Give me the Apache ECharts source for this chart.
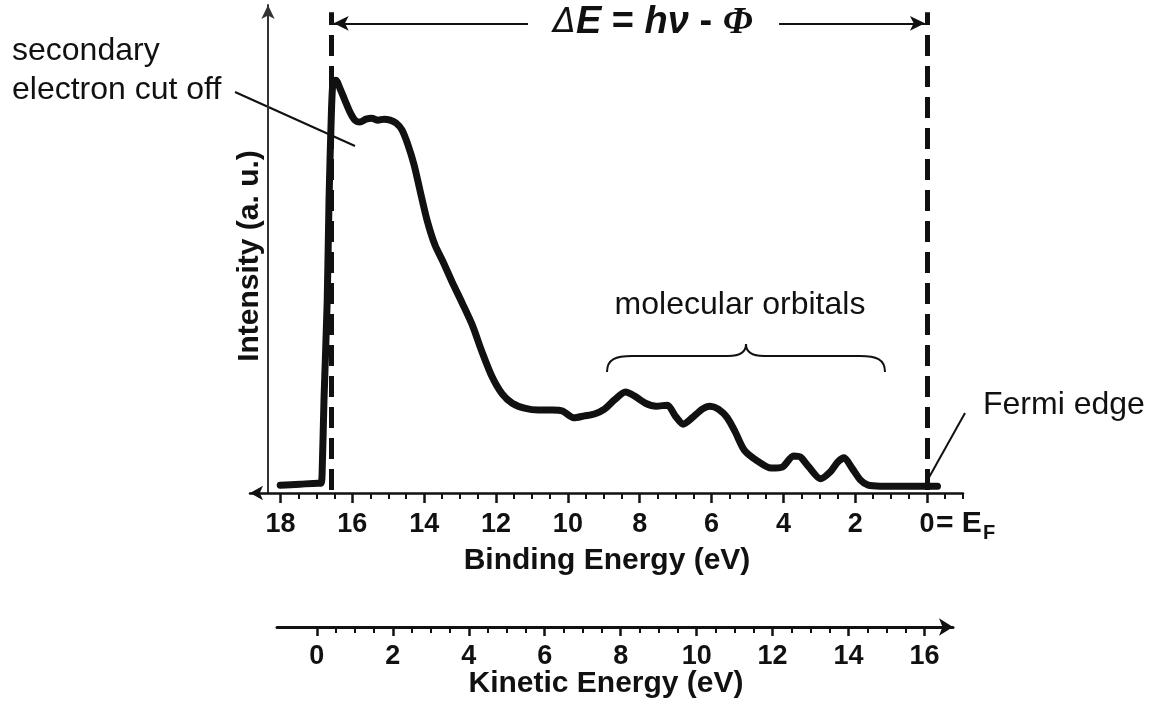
<!DOCTYPE html>
<html>
<head>
<meta charset="utf-8">
<script src="https://cdn.jsdelivr.net/npm/echarts@6/dist/echarts.min.js"></script>
<style>
  html, body { margin: 0; padding: 0; background: #fff; }
  #chart { width: 1157px; height: 704px; }
</style>
</head>
<body>
<div id="chart"></div>
<script>
// Photoemission (UPS-type) spectrum: intensity versus binding energy,
// with the matching kinetic-energy scale drawn underneath.

// Binding energy of each sampled point (eV)
const bindingEnergy = [
  18.01, 17.46, 16.96, 16.87, 16.84, 16.79, 16.70, 16.65, 16.59, 16.54,
  16.46, 16.35, 16.21, 16.07, 15.93, 15.79, 15.62, 15.46, 15.29, 15.12,
  14.95, 14.78, 14.62, 14.45, 14.28, 14.12, 13.92, 13.70, 13.47, 13.22,
  12.94, 12.66, 12.39, 12.11, 11.83, 11.55, 11.21, 10.82, 10.43, 10.15,
  9.84, 9.54, 9.26, 8.98, 8.70, 8.40, 8.15, 7.84, 7.54, 7.23,
  7.01, 6.79, 6.54, 6.26, 6.04, 5.81, 5.56, 5.34, 5.09, 4.73,
  4.34, 4.03, 3.72, 3.53, 3.31, 2.97, 2.70, 2.48, 2.31, 2.09,
  1.86, 1.64, 1.30, 0.74, 0.19, -0.29
];

// Intensity (arbitrary units) at each binding energy
const intensity = [
  1.6, 1.8, 2.0, 2.0, 4.7, 19.1, 39.5, 60.0, 76.4, 84.2,
  84.6, 83.0, 80.5, 78.1, 76.4, 76.0, 76.6, 76.8, 76.4, 76.6,
  76.4, 75.8, 74.4, 71.3, 67.2, 62.1, 55.9, 50.8, 47.3, 43.2,
  38.9, 34.4, 28.9, 23.8, 20.3, 18.4, 17.4, 17.0, 17.0, 16.8,
  15.4, 15.8, 16.2, 17.2, 19.1, 20.7, 19.9, 18.4, 17.8, 18.0,
  15.8, 14.1, 15.4, 17.2, 17.8, 17.2, 15.4, 12.5, 8.8, 6.6,
  5.1, 5.3, 7.6, 7.4, 5.5, 2.9, 4.3, 6.4, 7.2, 5.1,
  2.7, 1.6, 1.4, 1.4, 1.4, 1.4
];

// Axis ticks and labels
const bindingTicks = [0, 2, 4, 6, 8, 10, 12, 14, 16, 18];
const bindingMinorTicks = [-1, -0.5, 0.5, 1, 1.5, 2.5, 3, 3.5, 4.5, 5, 5.5, 6.5, 7, 7.5,
  8.5, 9, 9.5, 10.5, 11, 11.5, 12.5, 13, 13.5, 14.5, 15, 15.5, 16.5, 17, 17.5];
const kineticTicks = [0, 2, 4, 6, 8, 10, 12, 14, 16];
const kineticMinorTicks = [0.5, 1, 1.5, 2.5, 3, 3.5, 4.5, 5, 5.5, 6.5, 7, 7.5, 8.5, 9, 9.5,
  10.5, 11, 11.5, 12.5, 13, 13.5, 14.5, 15, 15.5];

// Reference energies
const cutoffEnergy = 16.6;   // secondary electron cut-off
const fermiEnergy = 0;       // Fermi level, E_F

// Axis ranges
const bindingMin = -1.0, bindingMax = 18.85;
const kineticMin = -1.05, kineticMax = 16.75;
const intensityMax = 100;
const markerTop = 98.5;      // upper end of the dashed markers

const INK = '#111';
const FONT = "'Liberation Sans', Arial, Helvetica, sans-serif";

const chart = echarts.init(document.getElementById('chart'), null, { renderer: 'canvas' });

const spectrum = bindingEnergy.map((e, i) => [e, intensity[i]]);

const bindingGrid = { left: 250, top: 5, width: 713, height: 488 };
const kineticGrid = { left: 277, top: 587, width: 676, height: 40 };

function hiddenY(gridIndex) {
  return { gridIndex, type: 'value', min: 0, max: 1, show: false };
}

function bez(x1, y1, cpx1, cpy1, cpx2, cpy2, x2, y2) {
  return {
    type: 'bezierCurve',
    shape: { x1, y1, cpx1, cpy1, cpx2, cpy2, x2, y2 },
    style: { stroke: INK, lineWidth: 2, fill: null }
  };
}
function seg(x1, y1, x2, y2) {
  return { type: 'line', shape: { x1, y1, x2, y2 }, style: { stroke: INK, lineWidth: 2 } };
}

const option = {
  animation: false,
  backgroundColor: '#fff',
  grid: [bindingGrid, bindingGrid, kineticGrid, kineticGrid],
  xAxis: [
    {
      gridIndex: 0, type: 'value', inverse: true, min: bindingMin, max: bindingMax,
      axisLine: { show: true, onZero: false, symbol: ['arrow', 'none'], symbolSize: [11, 13],
        lineStyle: { color: INK, width: 2.5 } },
      axisTick: { show: true, customValues: bindingTicks, length: 10, lineStyle: { color: INK, width: 2.5 } },
      axisLabel: { show: true, customValues: bindingTicks, margin: 18, color: INK,
        fontFamily: FONT, fontWeight: 'bold', fontSize: 27 },
      splitLine: { show: false }
    },
    {
      gridIndex: 1, type: 'value', inverse: true, min: bindingMin, max: bindingMax,
      axisLine: { show: false, onZero: false },
      axisTick: { show: true, customValues: bindingMinorTicks, length: 6, lineStyle: { color: INK, width: 2 } },
      axisLabel: { show: false },
      splitLine: { show: false }
    },
    {
      gridIndex: 2, type: 'value', min: kineticMin, max: kineticMax,
      axisLine: { show: true, onZero: false, symbol: ['none', 'arrow'], symbolSize: [13, 14],
        lineStyle: { color: INK, width: 3 } },
      axisTick: { show: true, customValues: kineticTicks, length: 9, lineStyle: { color: INK, width: 2.5 } },
      axisLabel: { show: true, customValues: kineticTicks, margin: 16, color: INK,
        fontFamily: FONT, fontWeight: 'bold', fontSize: 27 },
      splitLine: { show: false }
    },
    {
      gridIndex: 3, type: 'value', min: kineticMin, max: kineticMax,
      axisLine: { show: false, onZero: false },
      axisTick: { show: true, customValues: kineticMinorTicks, length: 6, lineStyle: { color: INK, width: 2 } },
      axisLabel: { show: false },
      splitLine: { show: false }
    }
  ],
  yAxis: [
    {
      gridIndex: 0, type: 'value', min: 0, max: intensityMax, offset: -18,
      axisLine: { show: true, onZero: false, symbol: ['none', 'arrow'], symbolSize: [10, 14],
        lineStyle: { color: '#333', width: 2 } },
      axisTick: { show: false }, axisLabel: { show: false }, splitLine: { show: false }
    },
    hiddenY(1), hiddenY(2), hiddenY(3)
  ],
  series: [
    {
      name: 'spectrum', type: 'line', xAxisIndex: 0, yAxisIndex: 0,
      data: spectrum, showSymbol: false, smooth: 0.25, silent: true,
      lineStyle: { color: INK, width: 7, cap: 'round', join: 'round' },
      z: 3
    },
    {
      // dashed markers at the cut-off and at the Fermi level
      name: 'markers', type: 'line', xAxisIndex: 0, yAxisIndex: 0, data: [],
      markLine: {
        silent: true, symbol: ['none', 'none'], label: { show: false },
        lineStyle: { color: INK, width: 5, type: [21, 10] },
        data: [
          [{ coord: [cutoffEnergy, 0.6] }, { coord: [cutoffEnergy, markerTop] }],
          [{ coord: [fermiEnergy, 0.6] }, { coord: [fermiEnergy, markerTop] }]
        ]
      },
      z: 4
    },
    {
      // the ΔE span between cut-off and Fermi level
      name: 'span', type: 'line', xAxisIndex: 0, yAxisIndex: 0, data: [],
      markLine: {
        silent: true, label: { show: false }, symbolSize: [11, 15],
        lineStyle: { color: INK, width: 2, type: 'solid' },
        data: [
          [{ coord: [16.52, 96.25], symbol: 'arrow' }, { coord: [11.11, 96.25], symbol: 'none' }],
          [{ coord: [4.12, 96.25], symbol: 'none' }, { coord: [0.06, 96.25], symbol: 'arrow' }]
        ]
      },
      z: 4
    }
  ],
  graphic: [
    // ΔE = hν − Φ
    {
      type: 'text', x: 653, y: 23,
      style: {
        text: '{d|Δ}{e|E}{o| = }{e|hν}{o| - }{p|Φ}',
        align: 'center', verticalAlign: 'middle', fill: INK,
        rich: {
          d: { fontFamily: "'DejaVu Sans', sans-serif", fontStyle: 'italic', fontSize: 33, fill: INK },
          e: { fontFamily: FONT, fontStyle: 'italic', fontWeight: 'bold', fontSize: 38, fill: INK },
          o: { fontFamily: FONT, fontWeight: 'bold', fontSize: 38, fill: INK },
          p: { fontFamily: "'Liberation Serif', serif", fontStyle: 'italic', fontWeight: 'bold', fontSize: 38, fill: INK }
        }
      }
    },
    // y-axis title
    {
      type: 'text', x: 250, y: 256, rotation: Math.PI / 2,
      style: { text: 'Intensity (a. u.)', align: 'center', verticalAlign: 'middle',
        fill: INK, font: 'bold 30px ' + FONT }
    },
    // axis titles
    {
      type: 'text', x: 607, y: 561,
      style: { text: 'Binding Energy (eV)', align: 'center', verticalAlign: 'middle',
        fill: INK, font: 'bold 30px ' + FONT }
    },
    {
      type: 'text', x: 606, y: 684,
      style: { text: 'Kinetic Energy (eV)', align: 'center', verticalAlign: 'middle',
        fill: INK, font: 'bold 30px ' + FONT }
    },
    // "= E_F" after the zero label
    {
      type: 'text', x: 936, y: 524,
      style: { text: '= E', align: 'left', verticalAlign: 'middle', fill: INK, font: 'bold 30px ' + FONT }
    },
    {
      type: 'text', x: 983, y: 533,
      style: { text: 'F', align: 'left', verticalAlign: 'middle', fill: INK, font: 'bold 20px ' + FONT }
    },
    // secondary electron cut-off annotation
    {
      type: 'text', x: 12, y: 51,
      style: { text: 'secondary', align: 'left', verticalAlign: 'middle', fill: INK, font: '32px ' + FONT }
    },
    {
      type: 'text', x: 12, y: 90,
      style: { text: 'electron cut off', align: 'left', verticalAlign: 'middle', fill: INK, font: '32px ' + FONT }
    },
    seg(235, 92, 355, 146),
    // molecular orbitals brace
    {
      type: 'text', x: 740, y: 305,
      style: { text: 'molecular orbitals', align: 'center', verticalAlign: 'middle', fill: INK, font: '32px ' + FONT }
    },
    bez(607, 372, 607, 359, 616, 356, 632, 356),
    seg(632, 356, 728, 356),
    bez(728, 356, 740, 356, 746, 352, 746, 344),
    bez(746, 344, 746, 352, 752, 356, 764, 356),
    seg(764, 356, 860, 356),
    bez(860, 356, 876, 356, 885, 359, 885, 372),
    // Fermi edge annotation
    {
      type: 'text', x: 983, y: 405,
      style: { text: 'Fermi edge', align: 'left', verticalAlign: 'middle', fill: INK, font: '32px ' + FONT }
    },
    seg(927, 481, 965, 413)
  ]
};

chart.setOption(option);
</script>
</body>
</html>
